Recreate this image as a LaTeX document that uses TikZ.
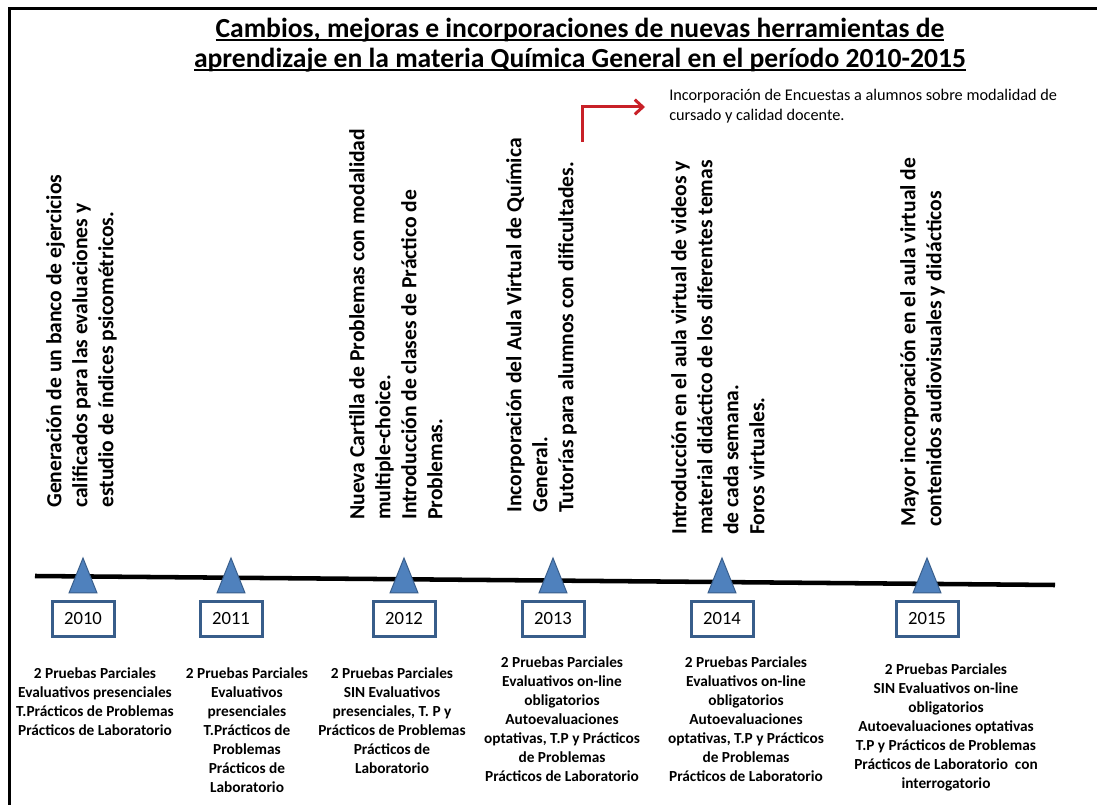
\documentclass[tikz,border=0pt]{standalone}
\usepackage{fontspec}
\setmainfont{Carlito}
\usetikzlibrary{arrows.meta}
\pgfdeclarelayer{edgelayer}
\pgfdeclarelayer{nodelayer}
\pgfsetlayers{edgelayer,nodelayer,main}
\definecolor{markfill}{RGB}{79,129,189}
\definecolor{markline}{RGB}{56,93,138}
\definecolor{arrowred}{RGB}{200,32,40}
\newcommand{\titleline}[1]{\setbox0\hbox{#1}\rlap{\rule[-2.6pt]{\wd0}{1.4pt}}\box0}
\tikzset{font=\fontsize{11.5}{14.25}\selectfont}
\tikzstyle{none}=[inner sep=0pt]
\tikzstyle{title}=[inner sep=0pt,anchor=north,align=center,font=\bfseries\fontsize{20.7}{22.3}\selectfont]
\tikzstyle{change}=[inner sep=0pt,rotate=90,anchor=north west,align=left,font=\bfseries\fontsize{16.2}{19.5}\selectfont]
\tikzstyle{note}=[inner sep=0pt,anchor=north west,align=left,font=\fontsize{12.2}{15}\selectfont]
\tikzstyle{yearbox}=[draw=markline,line width=2.25pt,fill=white,minimum width=46.5pt,minimum height=26.25pt,inner sep=0pt,font=\fontsize{14}{17}\selectfont]
\tikzstyle{marker}=[fill=markfill,draw=markline,line width=0.75pt]
\tikzstyle{detail}=[inner sep=0pt,anchor=north,align=center,font=\bfseries\fontsize{11.5}{14.25}\selectfont]

\begin{document}
\begin{tikzpicture}[x=0.75pt,y=-0.75pt]
	\useasboundingbox (0,0) rectangle (1097,805);
	\begin{pgfonlayer}{nodelayer}
		\node [style=title] (0) at (580, 18) {\titleline{Cambios, mejoras e incorporaciones de nuevas herramientas de}\\ \titleline{aprendizaje en la materia Química General en el período 2010-2015}};
		\node [style=note] (1) at (669, 89) {Incorporación de Encuestas a alumnos sobre modalidad de\\ cursado y calidad docente.};
		\node [style=change] (2) at (46, 508) {Generación de un banco de ejercicios\\ calificados para las evaluaciones y\\ estudio de índices psicométricos.};
		\node [style=change] (3) at (349, 520) {Nueva Cartilla de Problemas con modalidad\\ multiple-choice.\\ Introducción de clases de Práctico de\\ Problemas.};
		\node [style=change] (4) at (506, 513) {Incorporación del Aula Virtual de Química\\ General.\\ Tutorías para alumnos con dificultades.};
		\node [style=change] (5) at (671, 535) {Introducción en el aula virtual de videos y\\ material didáctico de los diferentes temas\\ de cada semana.\\ Foros virtuales.};
		\node [style=change] (6) at (900, 527) {Mayor incorporación en el aula virtual de\\ contenidos audiovisuales y didácticos};
		\draw [style=marker] (69, 593) -- (83, 558) -- (97, 593) -- cycle;
		\draw [style=marker] (217, 593) -- (231, 558) -- (245, 593) -- cycle;
		\draw [style=marker] (390, 593) -- (404, 558) -- (418, 593) -- cycle;
		\draw [style=marker] (539, 593) -- (553, 558) -- (567, 593) -- cycle;
		\draw [style=marker] (708, 593) -- (722, 558) -- (736, 593) -- cycle;
		\draw [style=marker] (913, 593) -- (927, 558) -- (941, 593) -- cycle;
		\node [style=yearbox] (7) at (83, 619) {2010};
		\node [style=yearbox] (8) at (231, 619) {2011};
		\node [style=yearbox] (9) at (404, 619) {2012};
		\node [style=yearbox] (10) at (553, 619) {2013};
		\node [style=yearbox] (11) at (722, 619) {2014};
		\node [style=yearbox] (12) at (927, 619) {2015};
		\node [style=detail] (13) at (95, 667) {2 Pruebas Parciales\\ Evaluativos presenciales\\ T.Prácticos de Problemas\\ Prácticos de Laboratorio};
		\node [style=detail] (14) at (247, 667) {2 Pruebas Parciales\\ Evaluativos\\ presenciales\\ T.Prácticos de\\ Problemas\\ Prácticos de\\ Laboratorio};
		\node [style=detail] (15) at (392, 667) {2 Pruebas Parciales\\ SIN Evaluativos\\ presenciales, T. P y\\ Prácticos de Problemas\\ Prácticos de\\ Laboratorio};
		\node [style=detail] (16) at (562, 656) {2 Pruebas Parciales\\ Evaluativos on-line\\ obligatorios\\ Autoevaluaciones\\ optativas, T.P y Prácticos\\ de Problemas\\ Prácticos de Laboratorio};
		\node [style=detail] (17) at (746, 656) {2 Pruebas Parciales\\ Evaluativos on-line\\ obligatorios\\ Autoevaluaciones\\ optativas, T.P y Prácticos\\ de Problemas\\ Prácticos de Laboratorio};
		\node [style=detail] (18) at (946, 663) {2 Pruebas Parciales\\ SIN Evaluativos on-line\\ obligatorios\\ Autoevaluaciones optativas\\ T.P y Prácticos de Problemas\\ Prácticos de Laboratorio\ \ con\\ interrogatorio};
		\coordinate (19) at (35, 576);
		\coordinate (20) at (1055, 585);
		\coordinate (21) at (582, 142);
		\coordinate (22) at (645, 107);
		\coordinate (23) at (9, 805);
		\coordinate (24) at (9, 9);
		\coordinate (25) at (1097, 9);
	\end{pgfonlayer}
	\begin{pgfonlayer}{edgelayer}
		\draw[line width=2.25pt] (23) to (24) to (25);
		\draw[line width=3.4pt] (19) to (20);
		\draw[arrowred, line width=2.25pt, -{Straight Barb[length=6pt,width=11pt]}] (21) |- (22);
	\end{pgfonlayer}
\end{tikzpicture}
\end{document}
